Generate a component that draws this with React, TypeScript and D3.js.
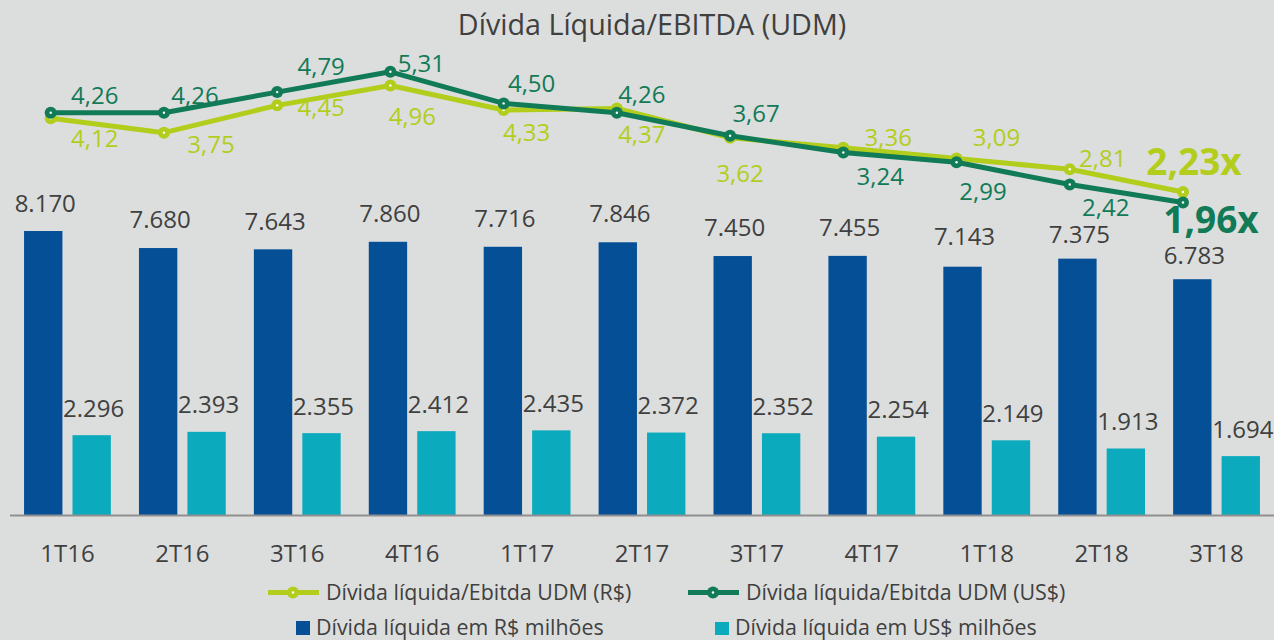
import React from "react";
import * as d3 from "d3";

const categories = ["1T16", "2T16", "3T16", "4T16", "1T17", "2T17", "3T17", "4T17", "1T18", "2T18", "3T18"];
const debtBRL = [8170, 7680, 7643, 7860, 7716, 7846, 7450, 7455, 7143, 7375, 6783];
const debtUSD = [2296, 2393, 2355, 2412, 2435, 2372, 2352, 2254, 2149, 1913, 1694];
const ratioBRL = [4.12, 3.75, 4.45, 4.96, 4.33, 4.37, 3.62, 3.36, 3.09, 2.81, 2.23];
const ratioUSD = [4.26, 4.26, 4.79, 5.31, 4.5, 4.26, 3.67, 3.24, 2.99, 2.42, 1.96];

const title = "Dívida Líquida/EBITDA (UDM)";
const legendRatioBRL = "Dívida líquida/Ebitda UDM (R$)";
const legendRatioUSD = "Dívida líquida/Ebitda UDM (US$)";
const legendDebtBRL = "Dívida líquida em R$ milhões";
const legendDebtUSD = "Dívida líquida em US$ milhões";

// label placement (dx, dy from the point to the label centre)
const brlLabelOffsets: [number, number][] = [[44, 20.5], [47, 12], [44, 2.5], [22, 31], [23, 22], [25, 25.5], [10, 36], [45, -10], [40, -20.5], [33, -11], [11, -30]];
const usdLabelOffsets: [number, number][] = [[44, -17], [31, -17], [44, -26], [31, -8], [28, -20], [25, -18.5], [26, -22.5], [37, 24], [26.5, 29], [36, 23], [28, 17]];
// gap between the top of each R$ bar and its label baseline
const brlBarLabelGap = [19.5, 19.7, 19.3, 19.5, 20, 20, 20.3, 20.2, 21.7, 15.6, 15];

const W = 1274;
const H = 640;
const BG = "#dcdedd";
const C_BLUE = "#044f96";
const C_TEAL = "#0babbd";
const C_LGREEN = "#b3cd1c";
const C_DGREEN = "#117a57";
const C_TEXT = "#404040";
const FONT = "'Open Sans', 'Noto Sans', sans-serif";

const locale = d3.formatLocale({ decimal: ",", thousands: ".", grouping: [3], currency: ["R$", ""] });
const fmtInt = locale.format(",.0f");
const fmtDec = locale.format(",.2f");

export default function App() {
  const baseY = 515;
  const x0 = d3.scaleBand<string>().domain(categories).range([10, W]).paddingInner(0).paddingOuter(0);
  const x1 = d3.scaleBand<string>().domain(["brl", "usd"]).range([0, x0.bandwidth()]).paddingInner(0.208).paddingOuter(0.29);
  const yBar = d3.scaleLinear().domain([0, 10000]).range([baseY, baseY - 347.6]);
  const xLine = d3.scalePoint<string>().domain(categories).range([50.7, 1183]);
  const yLine = d3.scaleLinear().domain([0, 6]).range([278.9, 44.9]);

  const lineGen = d3.line<number>().x((_, i) => xLine(categories[i])!).y((d) => yLine(d));

  const series = [
    { values: ratioBRL, color: C_LGREEN, offsets: brlLabelOffsets },
    { values: ratioUSD, color: C_DGREEN, offsets: usdLabelOffsets },
  ];

  const labelFs = 24;
  const boldFs = 37;

  return (
    <svg width={W} height={H} style={{ position: "absolute", left: 0, top: 0, background: BG, fontFamily: FONT }}>
      <rect x={0} y={0} width={W} height={H} fill={BG} />
      <text x={652} y={35} textAnchor="middle" fontSize={28.7} fill={C_TEXT}>{title}</text>

      {/* bars */}
      {categories.map((c, i) => {
        const bx = x0(c)!;
        const xb = bx + x1("brl")!;
        const xu = bx + x1("usd")!;
        const bw = x1.bandwidth();
        return (
          <g key={c}>
            <rect x={xb} y={yBar(debtBRL[i])} width={bw} height={baseY - yBar(debtBRL[i])} fill={C_BLUE} />
            <rect x={xu} y={yBar(debtUSD[i])} width={bw} height={baseY - yBar(debtUSD[i])} fill={C_TEAL} />
            <text x={xb + bw / 2 + 2} y={yBar(debtBRL[i]) - brlBarLabelGap[i]} textAnchor="middle" fontSize={labelFs} fill={C_TEXT}>{fmtInt(debtBRL[i])}</text>
            <text x={xu + bw / 2 + 2} y={yBar(debtUSD[i]) - 18.5} textAnchor="middle" fontSize={labelFs} fill={C_TEXT}>{fmtInt(debtUSD[i])}</text>
            <text x={bx + x0.bandwidth() / 2} y={562} textAnchor="middle" fontSize={labelFs} fill={C_TEXT}>{c}</text>
          </g>
        );
      })}

      <line x1={10} x2={W} y1={baseY + 0.5} y2={baseY + 0.5} stroke="#8f8f8f" strokeWidth={2} />

      {/* lines */}
      {series.map((s, si) => (
        <g key={si}>
          <path d={lineGen(s.values)!} fill="none" stroke={s.color} strokeWidth={5} strokeLinejoin="round" />
          {s.values.map((v, i) => (
            <g key={i}>
              <circle cx={xLine(categories[i])!} cy={yLine(v)} r={6} fill={s.color} />
              <circle cx={xLine(categories[i])!} cy={yLine(v)} r={1.2} fill="#ffffff" />
            </g>
          ))}
        </g>
      ))}
      {series.map((s, si) =>
        s.values.map((v, i) => {
          const last = i === s.values.length - 1;
          const fs = last ? boldFs : labelFs;
          const [dx, dy] = s.offsets[i];
          return (
            <text
              key={`${si}-${i}`}
              x={xLine(categories[i])! + dx}
              y={yLine(v) + dy + fs * 0.357}
              textAnchor="middle"
              fontSize={fs}
              fontWeight={last ? 700 : 400}
              fill={s.color}
            >
              {fmtDec(v) + (last ? "x" : "")}
            </text>
          );
        })
      )}

      {/* legend */}
      <g fontSize={21.4} fill={C_TEXT}>
        <line x1={268} x2={319} y1={592.5} y2={592.5} stroke={C_LGREEN} strokeWidth={5} />
        <circle cx={293} cy={592.5} r={6} fill={C_LGREEN} />
        <circle cx={293} cy={592.5} r={1.2} fill="#fff" />
        <text x={326} y={600}>{legendRatioBRL}</text>

        <line x1={688} x2={739} y1={592.5} y2={592.5} stroke={C_DGREEN} strokeWidth={5} />
        <circle cx={713} cy={592.5} r={6} fill={C_DGREEN} />
        <circle cx={713} cy={592.5} r={1.2} fill="#fff" />
        <text x={746} y={600}>{legendRatioUSD}</text>

        <rect x={296} y={621} width={14} height={14} fill={C_BLUE} />
        <text x={316} y={635}>{legendDebtBRL}</text>

        <rect x={715} y={622} width={14} height={13} fill={C_TEAL} />
        <text x={735} y={635}>{legendDebtUSD}</text>
      </g>
    </svg>
  );
}
